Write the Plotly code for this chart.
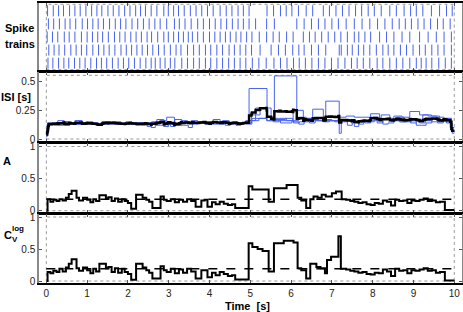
import bisect
import plotly.graph_objects as go

# ---------------- data ----------------
train1 = [0.03, 0.17, 0.30, 0.42, 0.57, 0.70, 0.83, 0.97, 1.11, 1.24, 1.36, 1.51, 1.64, 1.78, 1.92, 2.05, 2.19, 2.31,
          2.43, 2.57, 2.71, 2.88, 2.99, 3.12, 3.24, 3.38, 3.53, 3.67, 3.81, 3.95, 4.09, 4.26, 4.41, 4.55, 4.70, 4.83,
          4.97, 5.41, 5.57, 5.74, 5.88, 6.02, 6.18, 6.37, 6.53, 6.79, 6.94, 7.10, 7.26, 7.42, 7.58, 7.73, 7.89, 8.04,
          8.21, 8.42, 8.58, 8.77, 8.93, 9.07, 9.23, 9.44, 9.64, 9.81, 9.95]
train2 = [0.05, 0.18, 0.32, 0.46, 0.58, 0.72, 0.88, 1.01, 1.14, 1.27, 1.40, 1.55, 1.69, 1.82, 1.95, 2.10, 2.24, 2.38,
          2.52, 2.66, 2.79, 2.95, 3.14, 3.26, 3.40, 3.55, 3.71, 3.85, 4.00, 4.14, 4.28, 4.42, 4.56, 4.70, 4.83, 4.97,
          5.13, 5.40, 5.59, 6.14, 6.32, 6.50, 6.67, 6.83, 7.00, 7.16, 7.35, 7.55, 7.74, 7.93, 8.12, 8.30, 8.48, 8.65,
          8.80, 8.95, 9.11, 9.26, 9.42, 9.59, 9.73, 9.90]
train3 = [0.02, 0.15, 0.28, 0.44, 0.56, 0.70, 0.86, 1.00, 1.13, 1.26, 1.38, 1.52, 1.67, 1.80, 1.93, 2.07, 2.20, 2.33,
          2.47, 2.58, 2.73, 2.88, 2.99, 3.12, 3.24, 3.36, 3.48, 3.58, 3.71, 3.85, 4.00, 4.13, 4.26, 4.39, 4.51, 4.65,
          4.77, 4.91, 5.04, 5.22, 5.40, 5.56, 5.71, 5.89, 6.05, 6.30, 6.45, 6.59, 6.75, 6.91, 7.07, 7.22, 7.38, 7.55,
          7.66, 7.81, 7.95, 8.17, 8.34, 8.52, 8.72, 8.91, 9.15, 9.36, 9.56, 9.75, 9.93]
train4 = [0.06, 0.19, 0.31, 0.45, 0.60, 0.73, 0.86, 0.99, 1.14, 1.28, 1.41, 1.54, 1.68, 1.83, 1.96, 2.09, 2.22, 2.35,
          2.48, 2.61, 2.75, 2.89, 3.04, 3.18, 3.30, 3.46, 3.61, 3.75, 3.90, 4.03, 4.18, 4.32, 4.48, 4.61, 4.75, 4.89,
          5.03, 5.24, 5.51, 5.69, 5.86, 6.04, 6.19, 6.32, 6.50, 6.67, 6.85, 7.18, 7.23, 7.38, 7.50, 7.65, 7.78, 7.93,
          8.09, 8.25, 8.38, 8.52, 8.68, 8.83, 8.99, 9.15, 9.29, 9.45, 9.60, 9.75, 9.93]
train5 = [0.04, 0.16, 0.30, 0.43, 0.55, 0.69, 0.82, 0.95, 1.09, 1.23, 1.35, 1.48, 1.62, 1.76, 1.89, 2.02, 2.16, 2.30,
          2.44, 2.57, 2.67, 2.79, 2.91, 3.04, 3.15, 3.32, 3.46, 3.61, 3.75, 3.90, 4.03, 4.18, 4.32, 4.47, 4.61, 4.75,
          4.89, 5.05, 5.21, 5.39, 5.58, 5.74, 5.90, 6.06, 6.20, 6.35, 6.51, 6.67, 6.83, 6.99, 7.15, 7.32, 7.48, 7.62,
          7.77, 7.93, 8.11, 8.25, 8.42, 8.58, 8.74, 8.91, 9.07, 9.19, 9.31, 9.45, 9.62, 9.78, 9.93]
trains = [train1, train2, train3, train4, train5]
t_start, t_end = 0.0, 10.0

A_t = [0.00, 0.03, 0.10, 0.17, 0.25, 0.32, 0.40, 0.48, 0.55, 0.62, 0.74, 0.80, 0.90, 1.00, 1.08, 1.15, 1.22, 1.30,
       1.46, 1.52, 1.60, 1.68, 1.76, 1.85, 1.92, 2.00, 2.08, 2.20, 2.36, 2.45, 2.52, 2.60, 2.80, 2.88, 2.95, 3.05,
       3.15, 3.25, 3.35, 3.45, 3.55, 3.66, 3.80, 3.88, 3.95, 4.06, 4.15, 4.25, 4.35, 4.45, 4.55, 4.63, 4.96, 5.05,
       5.45, 5.58, 5.89, 6.16, 6.25, 6.37, 6.47, 6.55, 6.65, 6.75, 6.85, 7.00, 7.10, 7.24, 7.35, 7.45, 7.55, 7.65,
       7.75, 7.85, 7.95, 8.05, 8.15, 8.25, 8.35, 8.45, 8.55, 8.65, 8.75, 8.85, 8.95, 9.05, 9.15, 9.25, 9.35, 9.45,
       9.55, 9.65, 9.77, 10.00]
A_v = [0.00, 0.18, 0.14, 0.17, 0.15, 0.18, 0.16, 0.20, 0.26, 0.31, 0.20, 0.16, 0.20, 0.17, 0.13, 0.18, 0.15, 0.24,
       0.19, 0.21, 0.15, 0.19, 0.14, 0.18, 0.15, 0.12, 0.03, 0.25, 0.20, 0.17, 0.14, 0.04, 0.22, 0.17, 0.15, 0.18,
       0.13, 0.17, 0.14, 0.18, 0.15, 0.06, 0.16, 0.17, 0.06, 0.13, 0.10, 0.14, 0.11, 0.09, 0.10, 0.04, 0.38, 0.33,
       0.14, 0.35, 0.40, 0.20, 0.16, 0.04, 0.18, 0.22, 0.20, 0.25, 0.22, 0.27, 0.30, 0.18, 0.17, 0.15, 0.14, 0.12,
       0.13, 0.10, 0.09, 0.12, 0.11, 0.16, 0.14, 0.08, 0.17, 0.15, 0.16, 0.12, 0.16, 0.15, 0.17, 0.19, 0.15, 0.16,
       0.13, 0.14, 0.01, 0.01]
A_ref = 0.18

CV_t = [0.00, 0.03, 0.10, 0.17, 0.25, 0.32, 0.40, 0.48, 0.55, 0.62, 0.74, 0.80, 0.90, 1.00, 1.08, 1.15, 1.22, 1.30,
        1.46, 1.52, 1.60, 1.68, 1.76, 1.85, 1.92, 2.00, 2.08, 2.20, 2.36, 2.45, 2.52, 2.60, 2.80, 2.88, 2.95, 3.05,
        3.15, 3.25, 3.35, 3.45, 3.55, 3.66, 3.80, 3.88, 3.95, 4.06, 4.15, 4.25, 4.35, 4.45, 4.55, 4.63, 4.96, 5.05,
        5.18, 5.30, 5.45, 5.58, 5.82, 6.06, 6.16, 6.25, 6.37, 6.47, 6.62, 6.72, 6.83, 6.88, 6.98, 7.16, 7.22, 7.35,
        7.45, 7.55, 7.65, 7.75, 7.85, 7.95, 8.05, 8.15, 8.25, 8.35, 8.45, 8.55, 8.65, 8.75, 8.85, 8.95, 9.05, 9.15,
        9.25, 9.35, 9.45, 9.55, 9.65, 9.77, 10.00]
CV_v = [0.00, 0.14, 0.12, 0.16, 0.14, 0.19, 0.15, 0.21, 0.27, 0.34, 0.20, 0.16, 0.21, 0.17, 0.12, 0.19, 0.15, 0.27,
        0.20, 0.22, 0.14, 0.20, 0.13, 0.19, 0.14, 0.11, 0.02, 0.27, 0.21, 0.17, 0.13, 0.04, 0.23, 0.17, 0.14, 0.19,
        0.12, 0.18, 0.13, 0.19, 0.15, 0.04, 0.17, 0.17, 0.06, 0.13, 0.09, 0.14, 0.11, 0.08, 0.09, 0.025, 0.59, 0.53,
        0.50, 0.47, 0.15, 0.59, 0.63, 0.60, 0.20, 0.17, 0.04, 0.27, 0.22, 0.20, 0.12, 0.33, 0.38, 0.70, 0.19, 0.18,
        0.16, 0.15, 0.13, 0.14, 0.11, 0.10, 0.13, 0.12, 0.18, 0.15, 0.08, 0.19, 0.16, 0.17, 0.12, 0.17, 0.16, 0.18,
        0.20, 0.16, 0.17, 0.13, 0.14, 0.01, 0.01]
CV_ref = 0.19

x_ticks = list(range(11))
x_tick_labels = [str(v) for v in x_ticks]
isi_ticks = [0, 0.25, 0.5]
isi_tick_labels = ["0", "0.25", "0.5"]
unit_ticks = [0, 0.5, 1]
unit_tick_labels = ["0", "0.5", "1"]

# ---------------- style ----------------
FONT = "Liberation Sans, Arial, sans-serif"
BLUE = "#4863ee"
W, H = 463, 312
ML, MR, MT, MB = 39, 1, 3, 29
PW, PH = W - ML - MR, H - MT - MB


def px_x(px):
    return (px - ML) / PW


def px_y(py):
    return (H - MB - py) / PH


def dom(top, bottom):
    return [px_y(bottom), px_y(top)]


fig = go.Figure()

# spike trains
n = len(trains)
for k, tr in enumerate(trains):
    row = n - k
    xs, ys = [], []
    for s in tr:
        xs += [s, s, None]
        ys += [row - 0.42, row + 0.42, None]
    fig.add_trace(go.Scatter(x=xs, y=ys, mode="lines", line=dict(color=BLUE, width=1),
                             xaxis="x", yaxis="y", hoverinfo="skip", showlegend=False))

# ISI step functions
isi_edges, isi_vals = [], []
for tr in trains:
    e = [t_start] + tr + [t_end]
    v = [e[i + 1] - e[i] for i in range(len(e) - 1)]
    isi_edges.append(e)
    isi_vals.append(v)
    fig.add_trace(go.Scatter(x=e, y=v + [v[-1]], mode="lines", line=dict(color=BLUE, width=1, shape="hv"),
                             xaxis="x2", yaxis="y2", hoverinfo="skip", showlegend=False))

all_edges = sorted(set(x for e in isi_edges for x in e))
mean_v = []
for i in range(len(all_edges) - 1):
    m = 0.5 * (all_edges[i] + all_edges[i + 1])
    vals = []
    for e, v in zip(isi_edges, isi_vals):
        j = min(max(bisect.bisect_right(e, m) - 1, 0), len(v) - 1)
        vals.append(v[j])
    mean_v.append(sum(vals) / len(vals))
fig.add_trace(go.Scatter(x=all_edges, y=mean_v + [mean_v[-1]], mode="lines",
                         line=dict(color="black", width=2.5, shape="hv"),
                         xaxis="x2", yaxis="y2", hoverinfo="skip", showlegend=False))

# A panel
fig.add_trace(go.Scatter(x=[t_start, t_end], y=[A_ref, A_ref], mode="lines",
                         line=dict(color="black", width=1.5, dash="dash"),
                         xaxis="x3", yaxis="y3", hoverinfo="skip", showlegend=False))
na = min(len(A_t), len(A_v))
fig.add_trace(go.Scatter(x=A_t[:na], y=A_v[:na], mode="lines", line=dict(color="black", width=2, shape="hv"),
                         xaxis="x3", yaxis="y3", hoverinfo="skip", showlegend=False))

# Cv panel
fig.add_trace(go.Scatter(x=[t_start, t_end], y=[CV_ref, CV_ref], mode="lines",
                         line=dict(color="black", width=1.5, dash="dash"),
                         xaxis="x4", yaxis="y4", hoverinfo="skip", showlegend=False))
nc = min(len(CV_t), len(CV_v))
fig.add_trace(go.Scatter(x=CV_t[:nc], y=CV_v[:nc], mode="lines", line=dict(color="black", width=2, shape="hv"),
                         xaxis="x4", yaxis="y4", hoverinfo="skip", showlegend=False))

XR = [-0.18, 10.19]
tickfont = dict(family=FONT, size=10, color="#222")


def xax(anchor, labels):
    d = dict(range=XR, domain=[0, 1], anchor=anchor, automargin=False, showgrid=False, zeroline=False,
             showline=True, linecolor="black", linewidth=2, mirror="ticks", ticks="inside", ticklen=3,
             tickcolor="#555", tickwidth=1, tickvals=x_ticks, ticktext=x_tick_labels,
             showticklabels=labels, tickfont=tickfont)
    if anchor != "y":
        d["matches"] = "x"
    return d


def yax(domain, rng, tv=None, tt=None):
    d = dict(domain=domain, range=rng, automargin=False, showgrid=False, zeroline=False, showline=True,
             linecolor="#888", linewidth=1.5, mirror="ticks", tickfont=tickfont)
    if tv is None:
        d.update(showticklabels=False, ticks="")
    else:
        d.update(tickvals=tv, ticktext=tt, ticks="inside", ticklen=3, tickcolor="#555", tickwidth=1)
    return d


fig.update_layout(
    width=W, height=H, margin=dict(l=ML, r=MR, t=MT, b=MB, autoexpand=False),
    paper_bgcolor="white", plot_bgcolor="white",
    font=dict(family=FONT, size=10, color="#222"),
    xaxis=xax("y", False), xaxis2=xax("y2", False), xaxis3=xax("y3", False), xaxis4=xax("y4", True),
    yaxis=yax(dom(3, 71), [0.4, 5.6]),
    yaxis2=yax(dom(72, 142), [-0.026, 0.584], isi_ticks, isi_tick_labels),
    yaxis3=yax(dom(143, 213), [-0.036, 1.055], unit_ticks, unit_tick_labels),
    yaxis4=yax(dom(214, 283), [-0.031, 1.047], unit_ticks, unit_tick_labels),
)

# dotted data-extent boxes
boxes = [("x", "y", 0.5, 5.5), ("x2", "y2", 0.0, 0.555), ("x3", "y3", 0.0, 1.0), ("x4", "y4", 0.0, 1.0)]
for xr, yr, y0, y1 in boxes:
    fig.add_shape(type="rect", xref=xr, yref=yr, x0=t_start, x1=t_end, y0=y0, y1=y1,
                  line=dict(color="#999", width=1, dash="dot"), layer="below")

# labels
lab = dict(family=FONT, size=11, color="black")
small = dict(family=FONT, size=8, color="black")


def ann(text, px, py, font, **kw):
    fig.add_annotation(text=text, x=px_x(px), y=px_y(py), xref="paper", yref="paper",
                       showarrow=False, font=font, xanchor="center", yanchor="middle", **kw)


ann("<b>Spike</b>", 19.5, 28, lab)
ann("<b>trains</b>", 20, 44, lab)
ann("<b>ISI [s]</b>", 16, 96.5, lab)
ann("<b>A</b>", 7, 161, lab)
ann("<b>C</b>", 8.5, 235, lab)
ann("<b>log</b>", 17.5, 228.5, small)
ann("<b>V</b>", 14.5, 239.5, small)
ann("<b>Time  [s]</b>", 247, 305.5, lab)

fig.write_html("out.html", config={"displayModeBar": False},
               post_script="document.body.style.margin='0';document.body.style.overflow='hidden';")
